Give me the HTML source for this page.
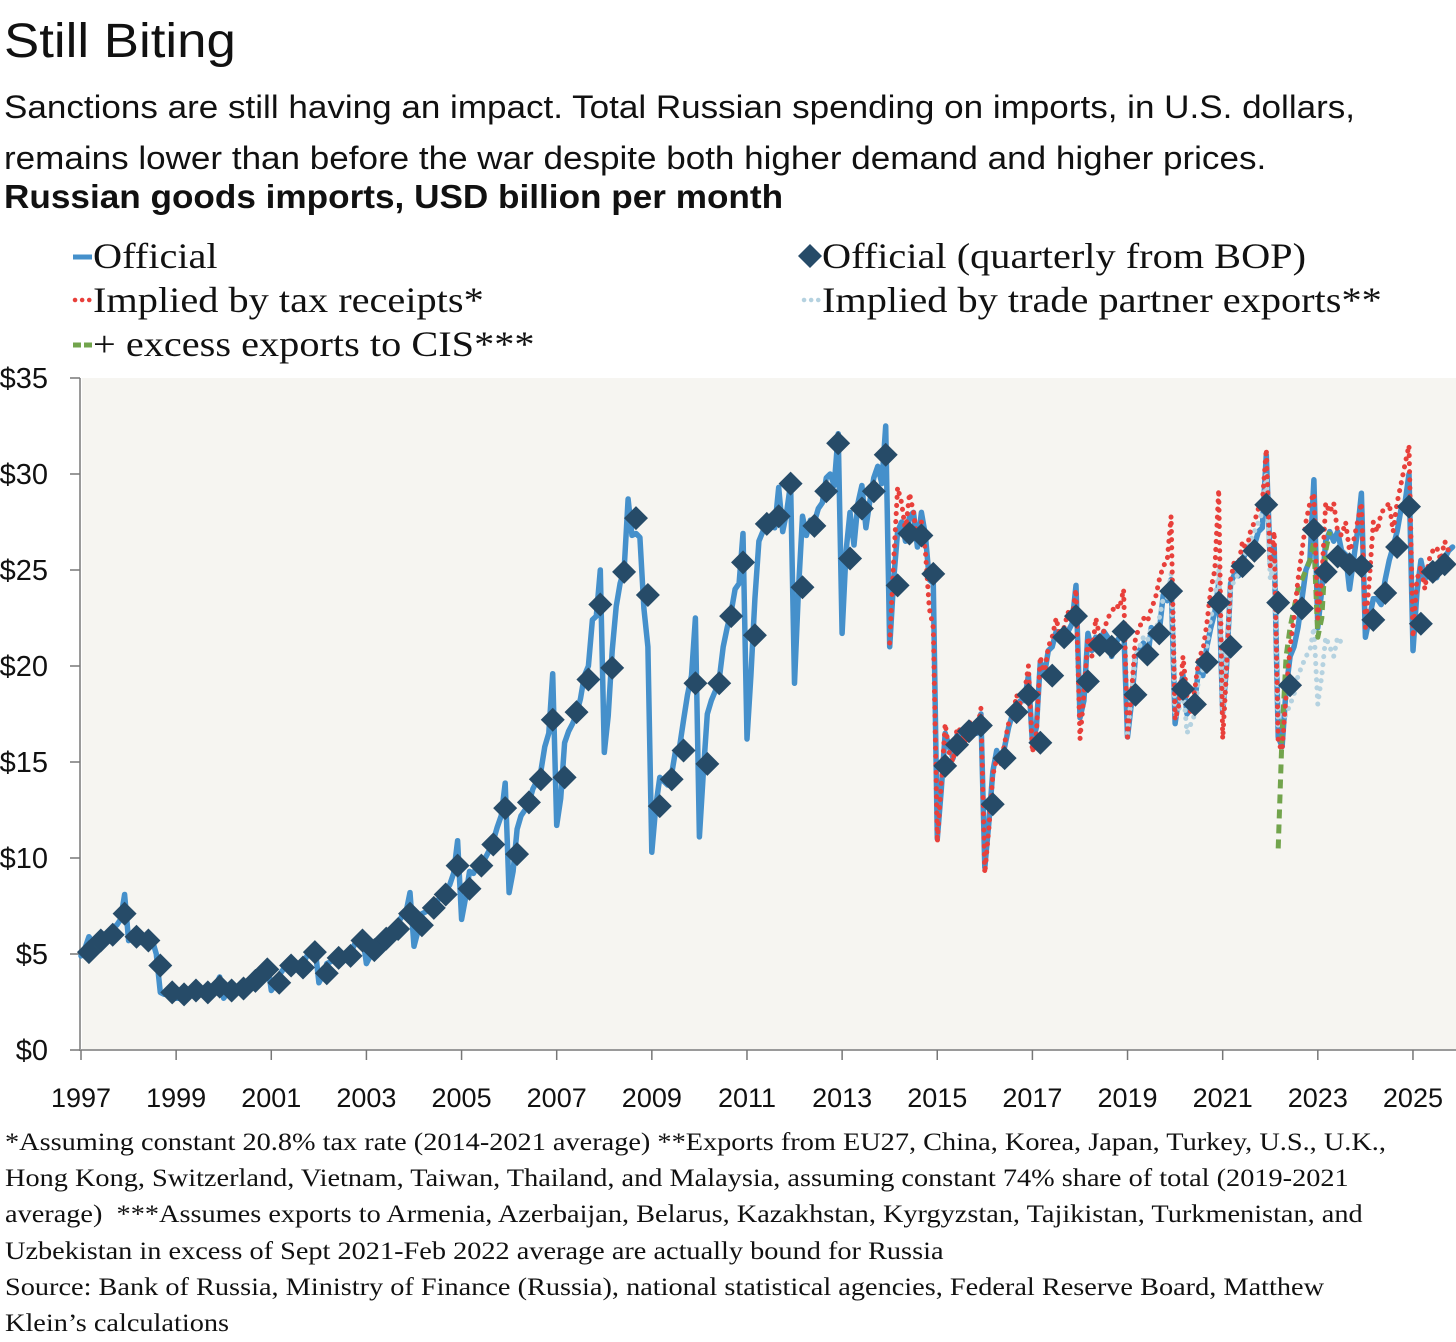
<!DOCTYPE html>
<html><head><meta charset="utf-8"><style>
body{margin:0;background:#fff;width:1456px;height:1342px;overflow:hidden;font-family:"Liberation Sans",sans-serif;color:#111}
.t{position:absolute;white-space:nowrap;transform-origin:0 0}
</style></head><body>
<div class="t" style="left:4px;top:14px;font-size:48px;transform:scaleX(1.1)">Still Biting</div>
<div class="t" style="left:4px;top:82px;font-size:32px;line-height:51px;transform:scaleX(1.095)">Sanctions are still having an impact. Total Russian spending on imports, in U.S. dollars,<br>remains lower than before the war despite both higher demand and higher prices.</div>
<div class="t" style="left:4px;top:178px;font-size:33px;font-weight:bold;transform:scaleX(1.065)">Russian goods imports, USD billion per month</div>
<svg id="c" width="1456" height="1342" style="position:absolute;left:0;top:0"></svg>
<div class="t" style="left:5px;top:1124px;font-family:'Liberation Serif',serif;font-size:25.5px;line-height:36.2px;transform:scaleX(1.11)">*Assuming constant 20.8% tax rate (2014-2021 average) **Exports from EU27, China, Korea, Japan, Turkey, U.S., U.K.,<br>Hong Kong, Switzerland, Vietnam, Taiwan, Thailand, and Malaysia, assuming constant 74% share of total (2019-2021<br>average)&nbsp; ***Assumes exports to Armenia, Azerbaijan, Belarus, Kazakhstan, Kyrgyzstan, Tajikistan, Turkmenistan, and<br>Uzbekistan in excess of Sept 2021-Feb 2022 average are actually bound for Russia<br>Source: Bank of Russia, Ministry of Finance (Russia), national statistical agencies, Federal Reserve Board, Matthew<br>Klein’s calculations</div>
<script>
const yTicks=[0,5,10,15,20,25,30,35];
const xTickYears=[1997,1999,2001,2003,2005,2007,2009,2011,2013,2015,2017,2019,2021,2023,2025];
const officialMonthly=[
4.9,5.3,5.9,5.6,5.8,6.1,6.0,6.1,6.4,6.5,6.8,8.1,
5.7,5.8,6.1,5.6,5.8,5.9,5.7,5.0,3.0,2.9,3.0,3.2,
2.7,2.7,3.0,2.9,2.9,3.1,3.0,3.1,3.0,3.2,3.4,3.8,
2.7,3.0,3.3,3.2,3.2,3.4,3.5,3.5,3.8,4.0,4.2,4.6,
3.1,3.4,3.9,4.2,4.3,4.5,4.3,4.2,4.5,4.9,5.1,5.4,
3.5,3.9,4.5,4.6,4.8,4.9,4.8,4.9,5.0,5.5,5.6,6.0,
4.5,4.9,5.5,5.5,5.8,5.9,6.0,6.2,6.6,7.0,7.2,8.2,
5.4,6.2,7.1,7.2,7.5,7.5,7.8,8.0,8.3,8.6,9.2,10.9,
6.8,7.9,9.3,9.2,9.6,9.8,10.0,10.4,10.9,11.6,12.2,13.9,
8.2,9.3,11.5,12.2,12.5,12.9,13.6,14.0,14.5,15.8,16.5,19.6,
11.7,13.1,16.0,16.6,17.0,17.5,18.3,19.5,20.0,22.4,22.6,25.0,
15.5,17.4,20.8,23.1,24.3,25.0,28.7,26.8,26.9,26.7,23.0,21.0,
10.3,12.7,14.2,14.0,13.8,14.4,15.6,15.8,17.2,18.5,19.5,22.5,
11.1,14.5,17.5,18.2,18.7,19.3,21.0,22.0,22.8,24.0,24.3,26.9,
16.2,19.5,23.5,26.5,27.0,27.4,27.5,27.2,29.3,27.0,28.0,29.5,
19.1,24.0,27.8,26.8,27.6,27.5,28.2,28.5,29.8,30.0,29.4,32.1,
21.7,26.0,28.0,26.3,28.5,29.4,27.2,28.6,29.8,30.4,29.5,32.5,
21.0,24.5,27.0,27.5,26.5,27.8,28.0,26.2,28.0,26.8,24.5,24.3,
11.0,13.5,16.5,15.8,15.2,16.4,16.5,16.2,16.9,16.8,16.5,17.5,
9.5,11.8,14.5,15.6,15.0,15.8,16.8,17.5,18.0,18.2,18.2,19.5,
16.0,16.8,20.2,19.5,20.8,21.0,21.8,21.5,21.5,21.8,22.2,24.2,
17.3,18.2,21.7,20.8,21.5,21.0,21.8,21.5,20.5,21.2,21.5,22.2,
16.3,18.1,20.5,20.8,21.2,20.3,22.0,21.7,21.8,23.7,23.4,24.5,
17.0,18.5,19.5,17.5,17.8,18.2,20.0,19.5,21.0,22.0,22.8,24.3,
17.6,20.0,24.3,24.8,24.7,25.5,26.0,26.2,26.3,27.0,27.2,31.0,
25.3,26.2,16.3,15.8,18.8,20.5,21.0,22.0,23.5,25.0,25.5,29.7,
22.0,24.0,26.5,27.0,26.5,27.0,26.0,25.8,24.0,25.5,27.0,29.0,
21.5,22.5,23.5,23.5,23.2,24.5,25.5,26.2,27.0,28.2,28.5,30.0,
20.8,23.8,25.5,24.5,25.0,25.3,24.6,25.3,25.6,26.0,26.2];
const taxStart=2014;
const taxMonthly=[
21.2,25.5,29.3,28.5,27.0,29.0,28.0,26.5,27.5,26.0,23.0,22.0,
10.8,13.8,17.0,15.5,15.0,16.8,16.6,16.0,17.2,16.5,16.5,17.8,
9.2,11.5,14.3,15.2,14.8,16.0,17.0,17.2,18.5,18.0,18.6,20.0,
15.5,16.5,20.5,19.5,21.0,21.5,22.5,21.5,22.0,22.8,22.5,24.0,
16.2,18.5,21.5,20.5,22.5,21.5,21.8,22.5,22.8,23.2,23.0,24.0,
16.3,18.6,21.5,22.0,22.5,22.3,23.0,23.5,24.5,25.2,25.5,27.8,
17.2,18.0,20.5,18.4,17.5,18.8,20.5,20.8,22.2,24.0,25.0,29.2,
16.2,19.8,24.5,25.5,25.2,26.5,26.0,27.0,27.5,28.2,28.5,31.3,
25.2,27.0,16.0,15.6,18.5,21.0,22.5,24.5,26.0,27.5,28.5,29.0,
22.5,24.5,28.5,28.0,28.5,27.0,26.8,27.5,26.0,26.5,27.5,28.5,
22.0,24.5,27.5,27.0,28.0,28.2,28.5,27.0,28.5,29.5,30.5,31.5,
21.5,24.5,25.2,24.0,25.5,26.0,26.2,25.5,26.5,26.0,26.2];
const partnerStart=2019;
const partnerMonthly=[
16.5,18.5,20.5,21.0,21.5,21.3,22.0,21.8,22.5,23.5,23.5,24.8,
17.3,17.8,19.0,16.5,17.0,17.5,19.5,19.8,21.0,22.5,23.5,25.3,
17.5,20.5,24.0,24.5,24.8,25.5,26.0,26.5,27.0,27.5,28.0,30.0,
24.5,25.5,16.8,17.0,17.5,18.0,18.5,19.5,20.0,20.5,20.8,22.0,
18.0,19.5,21.5,21.0,20.5,21.5,21.2];
const cisStart=2022+2/12;
const cisMonthly=[10.5,16.5,20.5,22.0,23.0,24.0,24.5,25.0,25.5,26.5,21.5,22.5,26.0,27.0];
const bopQuarterly=[
5.1,5.7,6.0,7.1, 5.9,5.7,4.4,3.0, 2.9,3.1,3.0,3.3, 3.1,3.2,3.6,4.2,
3.5,4.4,4.3,5.1, 4.0,4.8,4.9,5.7, 5.2,5.8,6.3,7.1, 6.5,7.4,8.1,9.6,
8.4,9.6,10.7,12.6, 10.2,12.9,14.1,17.2, 14.2,17.6,19.3,23.2, 19.9,24.9,27.7,23.7,
12.7,14.1,15.6,19.1, 14.9,19.1,22.6,25.4, 21.6,27.4,27.8,29.5, 24.1,27.3,29.1,31.6,
25.6,28.2,29.1,31.0, 24.2,26.9,26.8,24.8, 14.8,15.9,16.6,16.9, 12.8,15.2,17.6,18.5,
16.0,19.5,21.5,22.6, 19.2,21.1,21.0,21.8, 18.5,20.6,21.7,23.9, 18.8,18.0,20.2,23.3,
21.0,25.2,26.0,28.4, 23.3,19.0,23.0,27.1, 24.9,25.7,25.3,25.2, 22.4,23.8,26.2,28.3,
22.2,24.9,25.3];

const NS="http://www.w3.org/2000/svg";
const svg=document.getElementById('c');
const X0=81,PX=47.57,Y0=1050,PY=19.2;
const xs=t=>X0+(t-1997)*PX;
const ys=v=>Y0-v*PY;
function mk(tag,at,parent){const e=document.createElementNS(NS,tag);for(const k in at)e.setAttribute(k,at[k]);(parent||svg).appendChild(e);return e;}

const bg=mk('rect',{x:82,y:378,width:1374,height:672,fill:'#f6f5f1'});


const ax=mk('path',{d:'M80,378V1050H1456',stroke:'#9a9a9a','stroke-width':2,fill:'none'});


yTicks.forEach(v=>{
  mk('line',{x1:70,x2:80,y1:ys(v),y2:ys(v),stroke:'#777','stroke-width':1.5});
  const t=mk('text',{x:48,y:ys(v)+10,'text-anchor':'end','font-size':29,'font-family':'Liberation Sans, sans-serif',fill:'#111'});
  t.textContent='$'+v;
  
  
});
xTickYears.forEach(y=>{
  mk('line',{x1:xs(y),x2:xs(y),y1:1050,y2:1060,stroke:'#777','stroke-width':1.5});
  const t=mk('text',{x:xs(y),y:1107,'text-anchor':'middle','font-size':27,'font-family':'Liberation Sans, sans-serif',fill:'#111'});
  t.textContent=y;
  
  
});
function series(arr,start,style,name){
  const d=arr.map((v,i)=>(i?'L':'M')+xs(start+i/12).toFixed(1)+','+ys(v).toFixed(1)).join('');
  const p=mk('path',Object.assign({d:d,fill:'none','stroke-linejoin':'round','stroke-linecap':'round'},style));
  
  
}
series(officialMonthly,1997,{stroke:'#4590cb','stroke-width':5.5},'official-line');
series(partnerMonthly,partnerStart,{stroke:'#b5d2e0','stroke-width':5,'stroke-dasharray':'0.1 8'},'trade-partner-line');
series(cisMonthly,cisStart,{stroke:'#72a44c','stroke-width':5,'stroke-dasharray':'9 6','stroke-linecap':'butt'},'cis-line');
series(taxMonthly,taxStart,{stroke:'#e8403b','stroke-width':5,'stroke-dasharray':'0.1 8'},'tax-receipts-line');
bopQuarterly.forEach((v,i)=>{
  const cx=xs(1997+2/12+i/4),cy=ys(v),r=12;
  const d=mk('path',{d:`M${cx},${cy-r}L${cx+r},${cy}L${cx},${cy+r}L${cx-r},${cy}Z`,fill:'#264b68'});
  
  
});
// legend
function ltext(x,y,s){const t=mk('text',{x:x,y:y,'font-size':36,'font-family':'Liberation Serif, serif',fill:'#111',textLength:0});t.removeAttribute('textLength');t.setAttribute('transform',`translate(${x},0) scale(1.12,1) translate(${-x},0)`);t.textContent=s;}
let l=mk('line',{x1:73,x2:92,y1:257,y2:257,stroke:'#4590cb','stroke-width':5});

ltext(93,268,'Official');
l=mk('path',{d:'M810,244L822,256L810,268L798,256Z',fill:'#264b68'});

ltext(822,268,'Official (quarterly from BOP)');
l=mk('line',{x1:75,x2:92,y1:300,y2:300,stroke:'#e8403b','stroke-width':4.5,'stroke-dasharray':'0.1 7','stroke-linecap':'round'});

ltext(93,312,'Implied by tax receipts*');
l=mk('line',{x1:804,x2:821,y1:300,y2:300,stroke:'#b5d2e0','stroke-width':4.5,'stroke-dasharray':'0.1 7','stroke-linecap':'round'});

ltext(822,312,'Implied by trade partner exports**');
l=mk('line',{x1:73,x2:92,y1:345,y2:345,stroke:'#72a44c','stroke-width':5,'stroke-dasharray':'8 3'});

ltext(93,356,'+ excess exports to CIS***');
</script>
</body></html>
